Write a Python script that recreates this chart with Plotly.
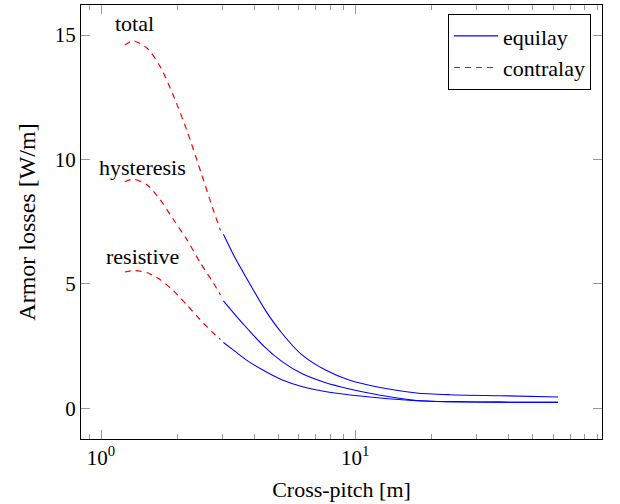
import numpy as np
import plotly.graph_objects as go

# contralay (dashed red) part, cross-pitch [m]
x_contra = [1.24, 1.34, 1.52, 1.71, 1.93, 2.18, 2.46, 2.77, 2.95]
total_contra = [14.60, 14.77, 14.47, 13.73, 12.55, 11.15, 9.55, 7.95, 7.15]
hyst_contra = [9.11, 9.21, 8.98, 8.38, 7.58, 6.77, 5.84, 5.03, 4.56]
resist_contra = [5.48, 5.54, 5.45, 5.17, 4.72, 4.15, 3.55, 3.02, 2.77]

# equilay (solid blue) part
x_equi = [3.03, 3.37, 3.80, 4.42, 5.14, 6.16, 7.61, 9.40, 11.97, 17.4, 23.6, 37.1, 62.8]
total_equi = [7.00, 6.04, 5.10, 3.96, 3.03, 2.16, 1.55, 1.15, 0.88, 0.62, 0.55, 0.51, 0.46]
hyst_equi = [4.32, 3.76, 3.16, 2.45, 1.89, 1.40, 1.04, 0.79, 0.57, 0.32, 0.27, 0.25, 0.24]
resist_equi = [2.65, 2.29, 1.89, 1.49, 1.15, 0.88, 0.68, 0.55, 0.44, 0.31, 0.27, 0.25, 0.24]

curve_labels = ["total", "hysteresis", "resistive"]
label_x = [1.354, 1.453, 1.453]
label_y = [15.47, 9.69, 6.10]

x_major = [1, 10]
x_major_text = ["10<sup>0</sup>", "10<sup>1</sup>"]
x_minor = [0.9, 2, 3, 4, 5, 6, 7, 8, 9, 20, 30, 40, 50, 60, 70, 80, 90]
y_ticks = [0, 5, 10, 15]

FONT = "Liberation Serif, Times New Roman, serif"
BLUE = "#0000ff"
RED = "#ff0000"

fig = go.Figure()
for i, ys in enumerate([total_equi, hyst_equi, resist_equi]):
    fig.add_trace(go.Scatter(
        x=x_equi, y=ys, mode="lines",
        line=dict(color=BLUE, width=1.1, shape="spline", smoothing=0.7),
        name="equilay", legendgroup="equilay", showlegend=(i == 0)))
for i, ys in enumerate([total_contra, hyst_contra, resist_contra]):
    fig.add_trace(go.Scatter(
        x=x_contra, y=ys, mode="lines",
        line=dict(color=RED, width=1.2, dash="6px,5px", shape="spline", smoothing=0.7),
        name="contralay", legendgroup="contralay", showlegend=(i == 0)))

for t, lx, ly in zip(curve_labels, label_x, label_y):
    fig.add_annotation(x=np.log10(lx), y=ly, xref="x", yref="y", text=t,
                       showarrow=False, xanchor="center", yanchor="middle",
                       font=dict(family=FONT, size=22, color="black"))

axis_common = dict(showline=True, linecolor="black", linewidth=1.2, mirror="ticks",
                   ticks="inside", tickcolor="#999999", tickwidth=1, ticklen=9,
                   showgrid=False, zeroline=False,
                   tickfont=dict(family=FONT, size=21, color="black"))

fig.update_xaxes(type="log", range=[np.log10(0.834), np.log10(93.5)],
                 tickmode="array", tickvals=x_major, ticktext=x_major_text,
                 minor=dict(tickmode="array", tickvals=x_minor, ticks="inside",
                            ticklen=5, tickcolor="#999999", tickwidth=1, showgrid=False),
                 title=dict(text="Cross-pitch [m]", font=dict(family=FONT, size=22, color="black"),
                            standoff=12),
                 **axis_common)
fig.update_yaxes(range=[-1.23, 16.21], tickmode="array", tickvals=y_ticks,
                 title=dict(text="Armor losses [W/m]", font=dict(family=FONT, size=24, color="black"),
                            standoff=12),
                 **axis_common)

fig.update_layout(
    width=620, height=504,
    margin=dict(l=81, r=18, t=5, b=65),
    plot_bgcolor="white", paper_bgcolor="white",
    font=dict(family=FONT, color="black"),
    legend=dict(x=0.979, y=0.979, xanchor="right", yanchor="top",
                bordercolor="black", borderwidth=1, bgcolor="white",
                font=dict(family=FONT, size=22, color="black"),
                tracegroupgap=0, itemwidth=44),
)

fig.write_html("out.html")
